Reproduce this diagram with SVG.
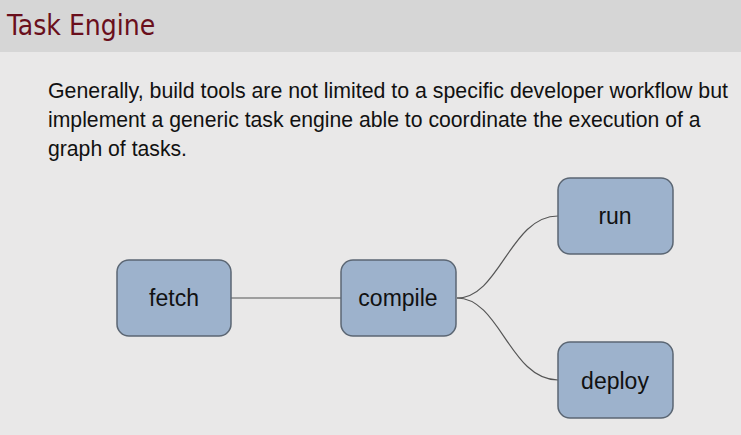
<svg xmlns="http://www.w3.org/2000/svg" width="741" height="435" viewBox="0 0 741 435">
<style>
.n rect{fill:#9db2cc;stroke:#5b6673;stroke-width:1.5}
.n text{font-family:"Liberation Sans",Arial,sans-serif;font-size:23px;fill:#111;text-anchor:middle}
.p{font-family:"Liberation Sans",Arial,sans-serif;font-size:21.2px;fill:#111}
#edges path{fill:none;stroke:#555;stroke-width:1.2}
</style>
<rect width="741" height="435" fill="#e9e8e8"/>
<rect width="741" height="52" fill="#d6d6d6"/>
<text x="7" y="35" font-family="'DejaVu Sans Condensed','Liberation Sans',sans-serif" font-size="28" fill="#6a0f1c">Task Engine</text>
<text class="p" x="48" y="98" textLength="680" lengthAdjust="spacingAndGlyphs">Generally, build tools are not limited to a specific developer workflow but</text>
<text class="p" x="48" y="127">implement a generic task engine able to coordinate the execution of a</text>
<text class="p" x="48" y="156">graph of tasks.</text>
<g id="edges">
<path d="M231,298 H341"/>
<path d="M457,298 C500,298 510,216 558,216"/>
<path d="M457,298 C500,298 510,380 558,380"/>
</g>
<g id="fetch" class="n"><rect x="117" y="260" width="114" height="76" rx="12"/><text x="174" y="306">fetch</text></g>
<g id="compile" class="n"><rect x="341" y="260" width="115" height="76" rx="12"/><text x="398" y="306">compile</text></g>
<g id="run" class="n"><rect x="558" y="178" width="115" height="76" rx="12"/><text x="615" y="224">run</text></g>
<g id="deploy" class="n"><rect x="558" y="342" width="115" height="76" rx="12"/><text x="615" y="389">deploy</text></g>
</svg>
